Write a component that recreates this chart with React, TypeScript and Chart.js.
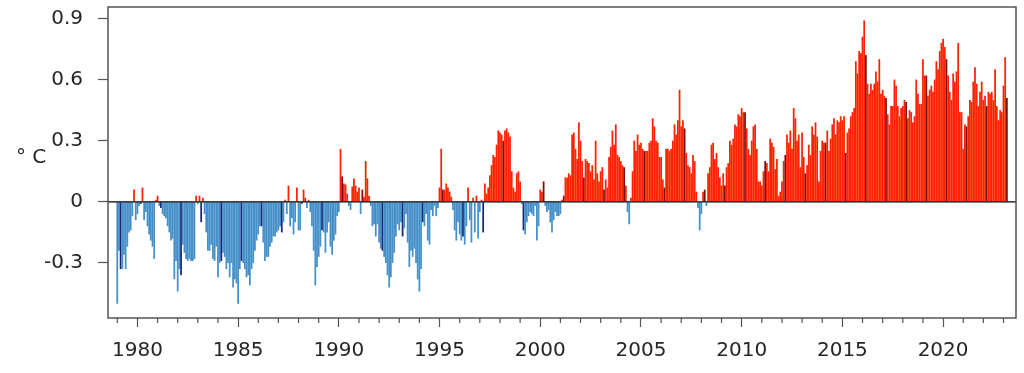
import React, { useEffect, useRef } from "react";
import { Chart, registerables } from "chart.js";

Chart.register(...registerables);

// Monthly temperature anomalies (°C), first value = January 1979
const FIRST_YEAR = 1979;

const anomalies1979to1988: number[] = [
  -0.50, -0.24, -0.33, -0.33, -0.26, -0.33, -0.22, -0.15, -0.14, -0.07, 0.06, -0.09,
  -0.06, -0.02, -0.01, 0.07, -0.09, -0.05, -0.12, -0.16, -0.19, -0.22, -0.28, 0.01,
  0.03, -0.02, -0.03, -0.06, -0.07, -0.08, -0.12, -0.15, -0.19, -0.18, -0.38, -0.29,
  -0.44, -0.33, -0.36, -0.21, -0.25, -0.28, -0.29, -0.28, -0.29, -0.29, -0.28, 0.03,
  -0.01, 0.03, -0.10, 0.02, -0.06, -0.15, -0.24, -0.24, -0.21, -0.28, -0.29, -0.22,
  -0.37, -0.30, -0.29, -0.25, -0.27, -0.33, -0.30, -0.37, -0.30, -0.42, -0.38, -0.40,
  -0.50, -0.33, -0.29, -0.30, -0.33, -0.37, -0.36, -0.41, -0.33, -0.30, -0.24, -0.19,
  -0.16, -0.12, -0.12, -0.20, -0.29, -0.27, -0.27, -0.22, -0.20, -0.17, -0.17, -0.15,
  -0.14, -0.12, -0.15, -0.10, 0.01, -0.06, 0.08, -0.12, -0.08, -0.16, -0.10, 0.07,
  -0.14, -0.14, -0.01, 0.06, 0.02, -0.03, 0.01, -0.05, -0.12, -0.24, -0.41, -0.32,
];

const anomalies1989to1998: number[] = [
  -0.27, -0.22, -0.14, -0.15, -0.25, -0.15, -0.10, -0.22, -0.26, -0.19, -0.16, -0.07,
  -0.05, 0.26, 0.125, 0.09, 0.085, 0.04, -0.02, -0.04, 0.075, 0.115, 0.08, 0.05,
  0.07, -0.06, 0.06, 0.025, 0.20, 0.115, 0.03, -0.02, -0.12, -0.11, -0.17, -0.11,
  -0.20, -0.23, -0.24, -0.27, -0.30, -0.36, -0.42, -0.37, -0.30, -0.25, -0.17, -0.11,
  -0.14, -0.10, -0.17, -0.13, -0.06, -0.20, -0.32, -0.24, -0.27, -0.23, -0.30, -0.38,
  -0.44, -0.33, -0.10, -0.12, -0.06, -0.19, -0.21, -0.04, -0.07, -0.02, -0.07, -0.03,
  0.07, 0.26, 0.06, 0.06, 0.09, 0.07, 0.05, 0.025, -0.04, -0.14, -0.19, -0.10,
  -0.16, -0.19, -0.17, -0.21, -0.12, 0.07, -0.09, -0.20, 0.02, -0.15, 0.03, -0.18,
  -0.05, 0.01, -0.15, 0.09, 0.04, 0.07, 0.13, 0.18, 0.23, 0.22, 0.28, 0.35,
  0.34, 0.33, 0.30, 0.35, 0.36, 0.34, 0.32, 0.15, 0.07, 0.05, 0.14, 0.15,
];

const anomalies1999to2008: number[] = [
  0.10, -0.01, -0.14, -0.16, -0.10, -0.07, -0.05, -0.06, -0.07, -0.02, -0.19, -0.12,
  0.06, 0.05, 0.10, -0.02, -0.05, -0.04, -0.10, -0.15, -0.09, -0.05, -0.07, -0.07,
  -0.06, 0.01, 0.03, 0.12, 0.12, 0.14, 0.13, 0.33, 0.34, 0.26, 0.21, 0.39,
  0.30, 0.20, 0.12, 0.21, 0.20, 0.19, 0.15, 0.18, 0.11, 0.30, 0.14, 0.10,
  0.15, 0.17, 0.06, 0.11, 0.07, 0.22, 0.27, 0.35, 0.28, 0.38, 0.23, 0.22,
  0.20, 0.18, 0.17, 0.08, -0.05, -0.11, 0.02, 0.15, 0.30, 0.25, 0.33, 0.28,
  0.29, 0.26, 0.25, 0.25, 0.25, 0.29, 0.30, 0.41, 0.37, 0.30, 0.29, 0.22,
  0.22, 0.11, 0.07, 0.26, 0.26, 0.25, 0.26, 0.30, 0.38, 0.33, 0.40, 0.55,
  0.37, 0.40, 0.36, 0.24, 0.18, 0.17, 0.14, 0.23, 0.20, 0.05, -0.03, -0.14,
  -0.06, 0.05, 0.06, -0.02, 0.14, 0.17, 0.28, 0.29, 0.21, 0.24, 0.17, 0.12,
];

const anomalies2009to2018: number[] = [
  0.08, 0.14, 0.08, 0.17, 0.19, 0.30, 0.28, 0.31, 0.38, 0.37, 0.43, 0.42,
  0.46, 0.44, 0.44, 0.36, 0.26, 0.23, 0.30, 0.37, 0.38, 0.26, 0.10, 0.10,
  0.08, 0.15, 0.20, 0.19, 0.15, 0.31, 0.29, 0.27, 0.16, 0.21, 0.03, 0.05,
  0.10, 0.20, 0.23, 0.33, 0.29, 0.35, 0.26, 0.46, 0.41, 0.30, 0.33, 0.17,
  0.34, 0.22, 0.14, 0.18, 0.28, 0.23, 0.37, 0.33, 0.39, 0.32, 0.10, 0.25,
  0.30, 0.29, 0.29, 0.35, 0.25, 0.31, 0.38, 0.41, 0.33, 0.40, 0.39, 0.42,
  0.40, 0.42, 0.24, 0.34, 0.36, 0.42, 0.44, 0.46, 0.69, 0.63, 0.74, 0.73,
  0.81, 0.89, 0.72, 0.58, 0.53, 0.58, 0.55, 0.58, 0.64, 0.59, 0.70, 0.53,
  0.55, 0.52, 0.51, 0.43, 0.38, 0.47, 0.47, 0.60, 0.57, 0.47, 0.42, 0.46,
  0.47, 0.50, 0.49, 0.41, 0.45, 0.44, 0.39, 0.42, 0.60, 0.53, 0.48, 0.48,
];

const anomalies2019to2023: number[] = [
  0.70, 0.62, 0.62, 0.52, 0.55, 0.57, 0.54, 0.60, 0.69, 0.65, 0.74, 0.78,
  0.80, 0.76, 0.70, 0.62, 0.54, 0.50, 0.63, 0.59, 0.64, 0.78, 0.44, 0.44,
  0.26, 0.38, 0.37, 0.42, 0.50, 0.49, 0.59, 0.66, 0.58, 0.47, 0.54, 0.59,
  0.50, 0.52, 0.47, 0.54, 0.53, 0.54, 0.50, 0.65, 0.47, 0.40, 0.45, 0.44,
  0.57, 0.71, 0.51,
];

const xTickYears = [1980, 1985, 1990, 1995, 2000, 2005, 2010, 2015, 2020];
const xMinorYears = [
  1979, 1981, 1982, 1983, 1984, 1986, 1987, 1988, 1989, 1991, 1992, 1993, 1994,
  1996, 1997, 1998, 1999, 2001, 2002, 2003, 2004, 2006, 2007, 2008, 2009, 2011,
  2012, 2013, 2014, 2016, 2017, 2018, 2019, 2021, 2022, 2023,
];
const yTickValues = [-0.3, 0, 0.3, 0.6, 0.9];
const yTickLabels = ["-0.3", "0", "0.3", "0.6", "0.9"];
const yAxisLabel = "\u00B0 C";

const X_MIN = 1978.54;
const X_MAX = 2023.62;
const Y_MIN = -0.57;
const Y_MAX = 0.956;

const COLOR_POS = "#ff2200";
const COLOR_POS_DARK = "#7d0f08";
const COLOR_NEG = "#4590c8";
const COLOR_NEG_DARK = "#17257a";
const FONT = "'DejaVu Sans', sans-serif";

const zeroPadding = (s: any) => {
  s.paddingTop = 0;
  s.paddingBottom = 0;
  s.paddingLeft = 0;
  s.paddingRight = 0;
};

const decorPlugin = {
  id: "decor",
  afterDatasetsDraw(chart: any) {
    const { ctx, chartArea: a, scales } = chart;
    const y0 = scales.y.getPixelForValue(0);
    ctx.save();
    // zero line
    ctx.strokeStyle = "#000";
    ctx.lineWidth = 1.2;
    ctx.beginPath();
    ctx.moveTo(a.left, y0);
    ctx.lineTo(a.right, y0);
    ctx.stroke();
    // frame
    ctx.strokeStyle = "#555";
    ctx.lineWidth = 1.5;
    ctx.strokeRect(a.left, a.top, a.right - a.left, a.bottom - a.top);
    // minor ticks on x axis
    ctx.lineWidth = 1.2;
    ctx.beginPath();
    xMinorYears.forEach((yr) => {
      const px = scales.x.getPixelForValue(yr);
      ctx.moveTo(px, a.bottom);
      ctx.lineTo(px, a.bottom + 5);
    });
    ctx.stroke();
    ctx.restore();
  },
  afterDraw(chart: any) {
    const { ctx } = chart;
    ctx.save();
    ctx.fillStyle = "#262626";
    ctx.font = `20px ${FONT}`;
    ctx.textAlign = "left";
    ctx.textBaseline = "alphabetic";
    ctx.fillText(yAxisLabel, 16, 163);
    ctx.restore();
  },
};

export default function App() {
  const canvasRef = useRef<HTMLCanvasElement | null>(null);

  useEffect(() => {
    document.body.style.margin = "0";
    const values = [
      ...anomalies1979to1988,
      ...anomalies1989to1998,
      ...anomalies1999to2008,
      ...anomalies2009to2018,
      ...anomalies2019to2023,
    ];
    const points = values.map((v, i) => ({ x: FIRST_YEAR + i / 12, y: v }));

    const chart = new Chart(canvasRef.current as HTMLCanvasElement, {
      type: "bar",
      data: {
        datasets: [
          {
            data: points as any,
            backgroundColor: (c: any) => {
              const i = c.dataIndex;
              const v = c.parsed ? c.parsed.y : 0;
              const dark = i % 12 === 2;
              if (v >= 0) return dark ? COLOR_POS_DARK : COLOR_POS;
              return dark ? COLOR_NEG_DARK : COLOR_NEG;
            },
            borderWidth: 0,
            barPercentage: 1.05,
            categoryPercentage: 1,
          },
        ],
      },
      options: {
        responsive: false,
        animation: false,
        devicePixelRatio: 1,
        layout: { padding: { left: 0, right: 8, top: 7, bottom: 0 } },
        plugins: {
          legend: { display: false },
          tooltip: { enabled: false },
        },
        scales: {
          x: {
            type: "linear",
            offset: false,
            min: X_MIN,
            max: X_MAX,
            afterBuildTicks: (s: any) => {
              s.ticks = xTickYears.map((v) => ({ value: v }));
            },
            afterFit: (s: any) => {
              s.height = 55;
              zeroPadding(s);
            },
            ticks: {
              callback: (v: any) => String(v),
              color: "#262626",
              font: { size: 20, family: FONT },
              padding: 12,
              maxRotation: 0,
              autoSkip: false,
            },
            grid: {
              offset: false,
              drawOnChartArea: false,
              drawTicks: true,
              tickLength: 9,
              tickColor: "#555",
              tickWidth: 1.2,
            },
            border: { display: false },
          },
          y: {
            type: "linear",
            min: Y_MIN,
            max: Y_MAX,
            afterBuildTicks: (s: any) => {
              s.ticks = yTickValues.map((v) => ({ value: v }));
            },
            afterFit: (s: any) => {
              s.width = 108;
              zeroPadding(s);
            },
            ticks: {
              callback: (v: any) => {
                const idx = yTickValues.findIndex((t) => Math.abs(t - v) < 1e-6);
                return idx >= 0 ? yTickLabels[idx] : "";
              },
              color: "#262626",
              font: { size: 20, family: FONT },
              padding: 15,
            },
            grid: {
              drawOnChartArea: false,
              drawTicks: true,
              tickLength: 10,
              tickColor: "#555",
              tickWidth: 1.2,
            },
            border: { display: false },
          },
        },
      },
      plugins: [decorPlugin],
    });

    return () => chart.destroy();
  }, []);

  return (
    <div style={{ width: 1024, height: 373 }}>
      <canvas ref={canvasRef} width={1024} height={373} style={{ display: "block" }} />
    </div>
  );
}
